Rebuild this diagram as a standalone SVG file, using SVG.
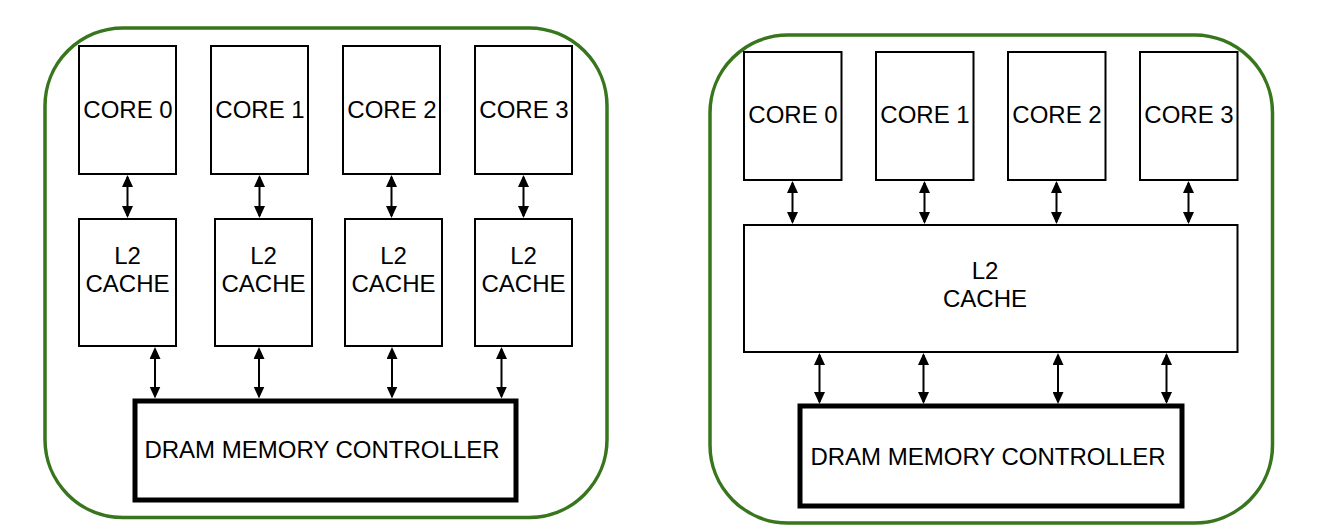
<svg xmlns="http://www.w3.org/2000/svg" width="1338" height="532" viewBox="0 0 1338 532">
<style>
.outer{fill:none;stroke:#38761d;stroke-width:3.5}
.box{fill:#fff;stroke:#000;stroke-width:2}
.dram{fill:#fff;stroke:#000;stroke-width:5}
.lbl{font-family:"Liberation Sans",Arial,sans-serif;font-size:24px;fill:#000;text-anchor:middle}
.conn{stroke:#000;stroke-width:2;fill:none;marker-start:url(#ah);marker-end:url(#ah)}
</style>
<defs>
<marker id="ah" viewBox="0 0 12 11" refX="10" refY="5.5" markerWidth="12" markerHeight="11" markerUnits="userSpaceOnUse" orient="auto-start-reverse">
<path d="M0,0 L12,5.5 L0,11 z" fill="#000"/>
</marker>
</defs>
<rect fill="#fff" width="1338" height="532"/>
<g id="chip-left">
<rect class="outer" x="45" y="28" width="562" height="489.5" rx="78" ry="78"/>
</g>
<g id="chip-right">
<rect class="outer" x="710" y="35" width="562.5" height="488" rx="78" ry="78"/>
</g>
<g id="left-core0"><rect class="box" x="79" y="46" width="97" height="128"/><text class="lbl" x="128" y="117.5">CORE 0</text></g>
<g id="left-core1"><rect class="box" x="211" y="46" width="97" height="128"/><text class="lbl" x="260" y="117.5">CORE 1</text></g>
<g id="left-core2"><rect class="box" x="343" y="46" width="97" height="128"/><text class="lbl" x="392" y="117.5">CORE 2</text></g>
<g id="left-core3"><rect class="box" x="475" y="46" width="97" height="128"/><text class="lbl" x="524" y="117.5">CORE 3</text></g>
<g id="left-l2-0"><rect class="box" x="79" y="219" width="97" height="127"/><text class="lbl" x="127.5" y="264">L2</text><text class="lbl" x="127.5" y="291.5">CACHE</text></g>
<g id="left-l2-1"><rect class="box" x="215" y="219" width="97" height="127"/><text class="lbl" x="263.5" y="264">L2</text><text class="lbl" x="263.5" y="291.5">CACHE</text></g>
<g id="left-l2-2"><rect class="box" x="345" y="219" width="97" height="127"/><text class="lbl" x="393.5" y="264">L2</text><text class="lbl" x="393.5" y="291.5">CACHE</text></g>
<g id="left-l2-3"><rect class="box" x="475" y="219" width="97" height="127"/><text class="lbl" x="523.5" y="264">L2</text><text class="lbl" x="523.5" y="291.5">CACHE</text></g>
<g id="left-dram"><rect class="dram" x="135" y="401" width="381" height="99"/><text class="lbl" x="322" y="458">DRAM MEMORY CONTROLLER</text></g>
<g id="right-core0"><rect class="box" x="744" y="52" width="97.5" height="128"/><text class="lbl" x="793" y="123">CORE 0</text></g>
<g id="right-core1"><rect class="box" x="876" y="52" width="97.5" height="128"/><text class="lbl" x="925" y="123">CORE 1</text></g>
<g id="right-core2"><rect class="box" x="1008" y="52" width="97.5" height="128"/><text class="lbl" x="1057" y="123">CORE 2</text></g>
<g id="right-core3"><rect class="box" x="1140" y="52" width="97.5" height="128"/><text class="lbl" x="1189" y="123">CORE 3</text></g>
<g id="right-l2"><rect class="box" x="744" y="225" width="493.5" height="127"/><text class="lbl" x="985" y="279">L2</text><text class="lbl" x="985" y="307">CACHE</text></g>
<g id="right-dram"><rect class="dram" x="800" y="406" width="382" height="100"/><text class="lbl" x="988" y="464.5">DRAM MEMORY CONTROLLER</text></g>
<g id="connectors">
<line class="conn" x1="127.5" y1="177" x2="127.5" y2="216"/>
<line class="conn" x1="259.5" y1="177" x2="259.5" y2="216"/>
<line class="conn" x1="391.5" y1="177" x2="391.5" y2="216"/>
<line class="conn" x1="523.5" y1="177" x2="523.5" y2="216"/>
<line class="conn" x1="155" y1="349" x2="155" y2="396.5"/>
<line class="conn" x1="259" y1="349" x2="259" y2="396.5"/>
<line class="conn" x1="392" y1="349" x2="392" y2="396.5"/>
<line class="conn" x1="501.5" y1="349" x2="501.5" y2="396.5"/>
<line class="conn" x1="792.5" y1="183" x2="792.5" y2="222"/>
<line class="conn" x1="924.5" y1="183" x2="924.5" y2="222"/>
<line class="conn" x1="1056.5" y1="183" x2="1056.5" y2="222"/>
<line class="conn" x1="1188.5" y1="183" x2="1188.5" y2="222"/>
<line class="conn" x1="819.5" y1="355" x2="819.5" y2="402"/>
<line class="conn" x1="923.5" y1="355" x2="923.5" y2="402"/>
<line class="conn" x1="1058" y1="355" x2="1058" y2="402"/>
<line class="conn" x1="1166.5" y1="355" x2="1166.5" y2="402"/>
</g>
</svg>
